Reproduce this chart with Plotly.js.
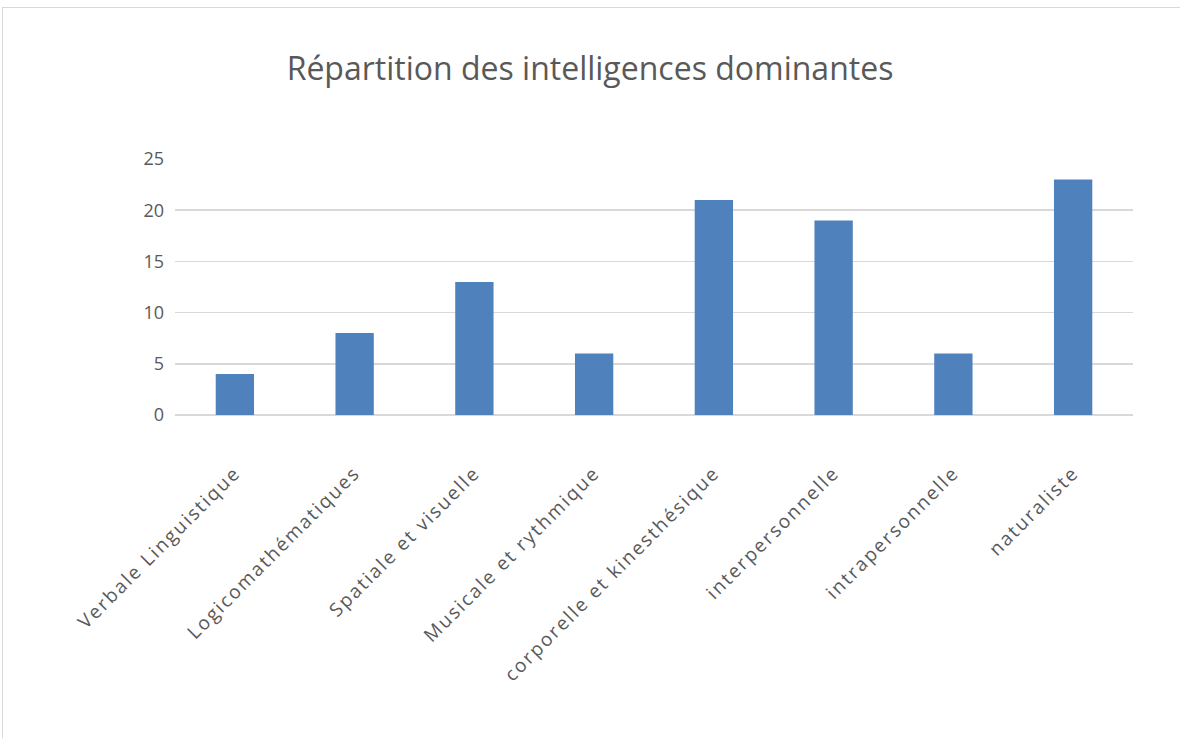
<!DOCTYPE html>
<html><head><meta charset="utf-8">
<script src="https://cdn.plot.ly/plotly-3.0.1.min.js"></script>
<style>
html,body{margin:0;padding:0;background:#fff;overflow:hidden;}
#frame{position:absolute;left:2px;top:7px;width:1300px;height:900px;border:1px solid #d9d9d9;box-sizing:border-box;}
#chart{position:absolute;left:0;top:0;width:1180px;height:738px;}
#chart .xtick text{letter-spacing:2px;}
</style></head>
<body>
<div id="frame"></div>
<div id="chart"></div>
<script>
const categories = ["Verbale Linguistique","Logicomathématiques","Spatiale et visuelle","Musicale et rythmique","corporelle et kinesthésique","interpersonnelle","intrapersonnelle","naturaliste"];
const values = [4, 8, 13, 6, 21, 19, 6, 23];
const yTicks = [0, 5, 10, 15, 20, 25];

Plotly.newPlot('chart', [{
  type: 'bar', x: categories, y: values,
  marker: {color: '#4F81BD'}, hoverinfo: 'x+y'
}], {
  width: 1180, height: 738,
  paper_bgcolor: 'rgba(0,0,0,0)', plot_bgcolor: 'rgba(0,0,0,0)',
  margin: {l: 175, r: 47, t: 159, b: 323},
  bargap: 0.68,
  title: {text: 'Répartition des intelligences dominantes', font: {family: 'Open Sans, sans-serif', size: 32, color: '#595959'}, x: 0.5, xanchor: 'center', y: 0.907, yanchor: 'middle'},
  font: {family: 'Open Sans, sans-serif', color: '#595959'},
  xaxis: {tickangle: -45, tickfont: {size: 19, color: '#595959'}, showline: false, ticks: '', showgrid: false, zeroline: false, ticklabelstandoff: 42},
  yaxis: {range: [0, 25], tickvals: yTicks, tickfont: {size: 18, color: '#595959'}, gridcolor: '#d9d9d9', gridwidth: 1.5, zeroline: true, zerolinecolor: '#d9d9d9', zerolinewidth: 1.5, ticks: '', ticklabelstandoff: 10, showline: false},
  showlegend: false
}, {displayModeBar: false, staticPlot: true});
</script>
</body></html>
